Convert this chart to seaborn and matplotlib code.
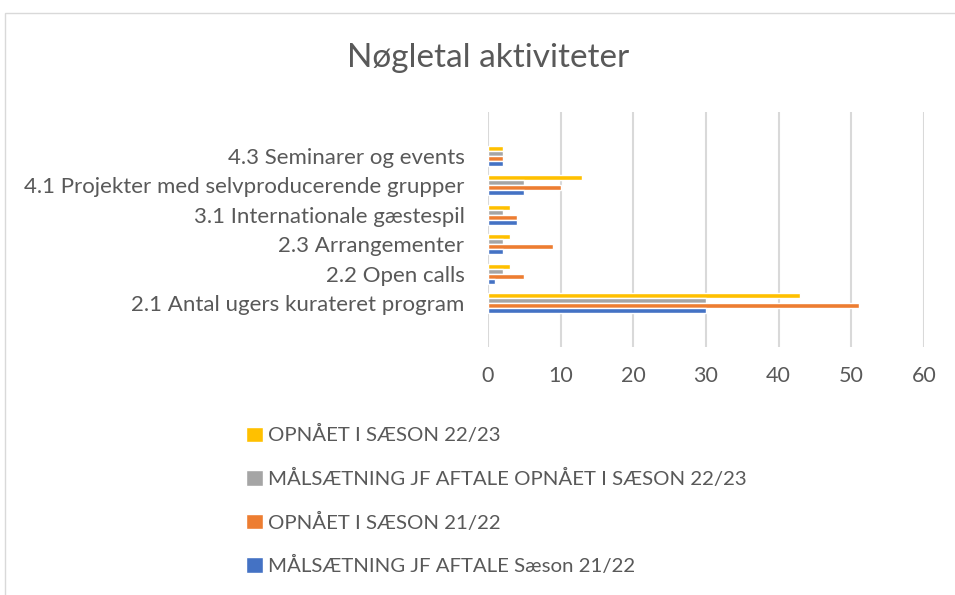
import pandas as pd
import matplotlib
matplotlib.use("Agg")
import matplotlib.pyplot as plt
from matplotlib.patches import Rectangle
import seaborn as sns

# ── Data ───────────────────────────────────────────────────────
categories = [
    "4.3 Seminarer og events",
    "4.1 Projekter med selvproducerende grupper",
    "3.1 Internationale gæstespil",
    "2.3 Arrangementer",
    "2.2 Open calls",
    "2.1 Antal ugers kurateret program",
]
series = [
    "OPNÅET I SÆSON 22/23",
    "MÅLSÆTNING JF AFTALE OPNÅET I SÆSON 22/23",
    "OPNÅET I SÆSON 21/22",
    "MÅLSÆTNING JF AFTALE Sæson 21/22",
]
opnaaet_2223 = [2, 13, 3, 3, 3, 43]
maal_2223 = [2, 5, 2, 2, 2, 30]
opnaaet_2122 = [2, 10, 4, 9, 5, 51]
maal_2122 = [2, 5, 4, 2, 1, 30]
colors = ["#FFC000", "#A5A5A5", "#ED7D31", "#4472C4"]
x_ticks = [0, 10, 20, 30, 40, 50, 60]

rows = []
for s, vals in zip(series, [opnaaet_2223, maal_2223, opnaaet_2122, maal_2122]):
    for c, v in zip(categories, vals):
        rows.append({"kategori": c, "serie": s, "værdi": v})
df = pd.DataFrame(rows)

# ── Style ──────────────────────────────────────────────────────
sns.set_theme(style="white")
plt.rcParams["font.family"] = ["Lato", "DejaVu Sans"]
txt = "#595959"

fig = plt.figure(figsize=(9.55, 5.95), dpi=100)
ax = fig.add_axes([488 / 955, 1 - 347 / 595, (924 - 488) / 955, (347 - 112) / 595])

sns.barplot(data=df, y="kategori", x="værdi", hue="serie",
            order=categories, hue_order=series, palette=colors,
            orient="h", width=0.68, saturation=1, ax=ax, legend=True)

ax.set_xlim(0, 60)
ax.set_ylim(6.5, -1.5)
ax.set_xticks(x_ticks)
ax.set_xlabel("")
ax.set_ylabel("")
for sp in ax.spines.values():
    sp.set_visible(False)
ax.grid(axis="x", color="#D9D9D9", linewidth=1.5)
ax.grid(axis="y", visible=False)
ax.set_axisbelow(True)
ax.tick_params(axis="x", length=0, pad=14, labelsize=15.5, labelcolor=txt)
ax.tick_params(axis="y", length=0, pad=17, labelsize=16, labelcolor=txt)

handles, labels = ax.get_legend_handles_labels()
ax.get_legend().remove()
fig.legend(handles, labels, loc="upper left", bbox_to_anchor=(228 / 955, 1 - 407 / 595),
           frameon=False, fontsize=14.7, labelcolor=txt, handlelength=0.8,
           handleheight=0.8, handletextpad=0.25, labelspacing=1.2)

fig.text(488 / 955, 1 - 58 / 595, "Nøgletal aktiviteter", ha="center", va="center",
         fontsize=24, color=txt)

fig.patches.append(Rectangle((5 / 955, -0.1), 1.2, 1 - 13 / 595 + 0.1,
                             transform=fig.transFigure, fill=False,
                             edgecolor="#D9D9D9", linewidth=1))

fig.savefig("out.png", dpi=100)
